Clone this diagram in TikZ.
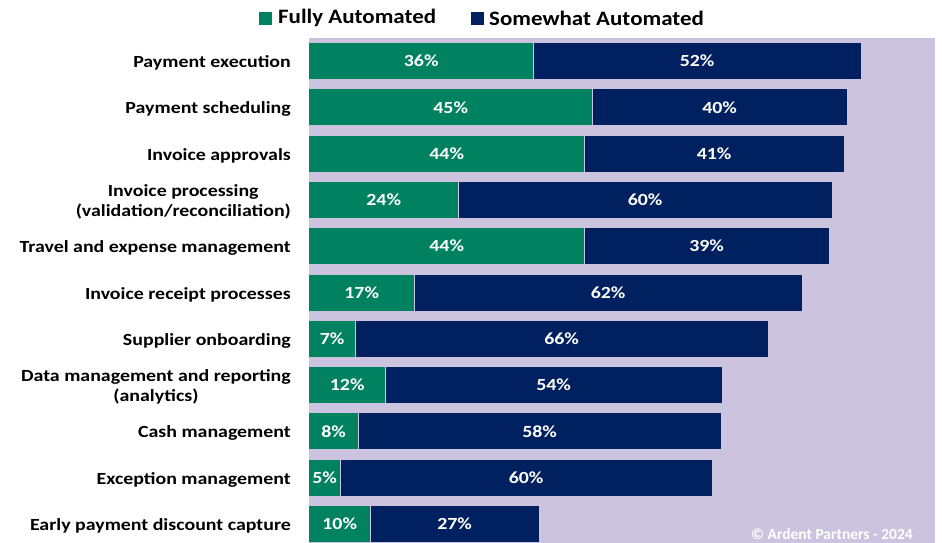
\documentclass[tikz,border=0pt]{standalone}
\usepackage{fontspec}
\setmainfont{Carlito}
\newfontfamily\widefont{Carlito}[FakeStretch=1.17]
\newfontfamily\legfont{Carlito}[FakeStretch=1.12]
\definecolor{gfill}{RGB}{0,130,96}
\definecolor{nfill}{RGB}{0,32,96}
\definecolor{lav}{RGB}{204,196,222}
\begin{document}
\begin{tikzpicture}[x=1pt,y=-1pt,
  seg/.style={anchor=west,inner sep=0pt,minimum height=36pt,text=white,font=\widefont\fontsize{17}{17}\selectfont\bfseries},
  gseg/.style={seg,fill=gfill},
  nseg/.style={seg,fill=nfill},
  cat/.style={anchor=east,align=center,inner sep=0pt,font=\widefont\fontsize{17}{20}\selectfont\bfseries,text=black},
  legtxt/.style={anchor=west,inner sep=0pt,font=\legfont\fontsize{20.5}{20.5}\selectfont\bfseries}]
\useasboundingbox (0,0) rectangle (942,543);
\fill[white] (0,0) rectangle (942,543);
\fill[lav] (309,38) rectangle (935,543);
% legend
\fill[gfill] (259,12) rectangle (272,25);
\node[legtxt] (lg) at (278,18) {Fully Automated};
\fill[nfill] (471,12) rectangle (484,25);
\node[legtxt] (ln) at (489,18) {Somewhat Automated};
% bars
\foreach \i/\lab/\gp/\np/\ge/\ne in {
 1/{Payment execution}/36/52/533/860,
 2/{Payment scheduling}/45/40/592/846,
 3/{Invoice approvals}/44/41/584/843,
 4/{Invoice processing\\(validation/reconciliation)}/24/60/458/831,
 5/{Travel and expense management}/44/39/584/828,
 6/{Invoice receipt processes}/17/62/414/801,
 7/{Supplier onboarding}/7/66/355/767,
 8/{Data management and reporting\\(analytics)}/12/54/385/721,
 9/{Cash management}/8/58/358/720,
 10/{Exception management}/5/60/340/711,
 11/{Early payment discount capture}/10/27/370/538}{
  \pgfmathsetmacro{\yc}{61+46.3*(\i-1)}
  \pgfmathsetmacro{\gw}{\ge-309}
  \pgfmathsetmacro{\nw}{\ne-\ge}
  \node[gseg,minimum width=\gw pt] (g\i) at (309,\yc) {\raisebox{-1.5pt}{\gp\%}};
  \node[nseg,minimum width=\nw pt] (n\i) at (g\i.east) {\raisebox{-1.5pt}{\np\%}};
  \node[cat,yshift=-2pt] (c\i) at (291,\yc) {\lab};
}
\node[anchor=east,inner sep=0pt,text=white,font=\fontsize{15.5}{15.5}\selectfont\bfseries] (copy) at (913,534) {© Ardent Partners - 2024};
\end{tikzpicture}
\end{document}
